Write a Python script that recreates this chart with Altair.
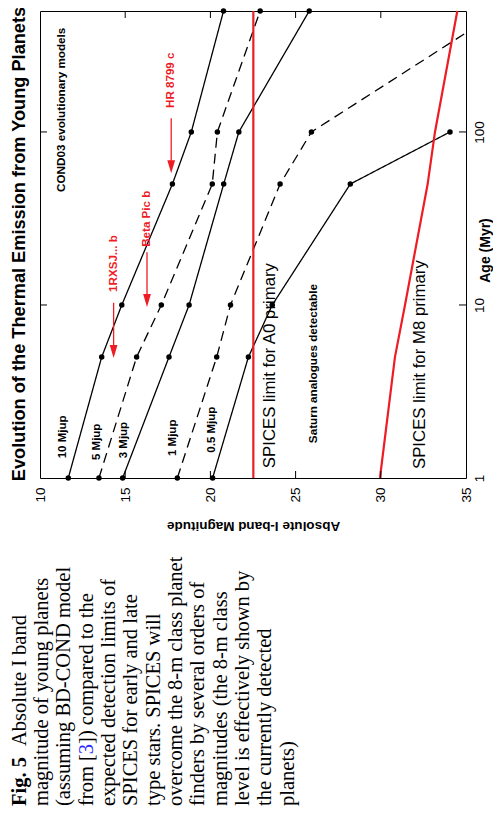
import altair as alt
import pandas as pd

# ---------------- data ----------------
ages = [1, 5, 10, 50, 100, 500]
mag_10 = [11.66, 13.62, 14.80, 17.77, 18.88, 20.77]
mag_5 = [13.46, 15.67, 17.12, 20.11, 20.41, 22.92]
mag_3 = [14.85, 17.57, 18.75, 20.78, 21.67, 25.80]
mag_1 = [18.06, 20.37, 21.18, 24.09, 25.93, 37.0]
ages_05 = [1, 5, 10, 50, 100]
mag_05 = [20.13, 22.23, 23.63, 28.21, 34.06]

a0_ages = [1, 500]
a0_mags = [22.52, 22.52]
m8_ages = [1, 5, 10, 50, 100, 500]
m8_mags = [29.95, 30.83, 31.42, 32.75, 33.18, 34.49]

mass_labels = ["10 Mjup", "5 Mjup", "3 Mjup", "1 Mjup", "0.5 Mjup"]
mass_label_mag = [11.37, 13.32, 14.94, 17.78, 20.08]
mass_label_age = [1.30, 1.27, 1.30, 1.34, 1.40]

planet_names = ["1RXSJ... b", "Beta Pic b", "HR 8799 c"]
planet_mag = [14.32, 16.28, 17.70]
planet_label_age = [11.9, 21.7, 137.6]
arrow_tail_age = [10.3, 20.2, 120.0]
arrow_head_age = [5.39, 10.6, 63.0]

big_notes = ["SPICES limit for A0 primary", "SPICES limit for M8 primary"]
big_note_mag = [23.48, 32.28]
big_note_age = [1.14, 1.127]

small_notes = ["COND03 evolutionary models", "Saturn analogues detectable"]
small_note_mag = [11.23, 26.02]
small_note_age = [45.0, 1.59]

caption_lines = [
    "magnitude of young planets",
    "(assuming BD-COND model",
    None,
    "expected detection limits of",
    "SPICES for early and late",
    "type stars. SPICES will",
    "overcome the 8-m class planet",
    "finders by several orders of",
    "magnitudes (the 8-m class",
    "level is effectively shown by",
    "the currently detected",
    "planets)",
]

TITLE = "Evolution of the Thermal Emission from Young Planets"

# ---------------- build tables ----------------
rows = []
for name, ag, mg, style in [
    ("10 Mjup", ages, mag_10, "solid"),
    ("5 Mjup", ages, mag_5, "dashed"),
    ("3 Mjup", ages, mag_3, "solid"),
    ("1 Mjup", ages, mag_1, "dashed"),
    ("0.5 Mjup", ages_05, mag_05, "solid"),
]:
    for a, m in zip(ag, mg):
        rows.append({"series": name, "age": a, "mag": m, "style": style})
tracks = pd.DataFrame(rows)

limits = pd.DataFrame(
    [{"series": "A0", "age": a, "mag": m} for a, m in zip(a0_ages, a0_mags)]
    + [{"series": "M8", "age": a, "mag": m} for a, m in zip(m8_ages, m8_mags)]
)

mass_df = pd.DataFrame({"text": mass_labels, "mag": mass_label_mag, "age": mass_label_age})
planet_df = pd.DataFrame({"text": planet_names, "mag": planet_mag, "age": planet_label_age})
arrow_df = pd.DataFrame({"mag": planet_mag, "age": arrow_tail_age, "age2": arrow_head_age})
head_df = pd.DataFrame({"mag": planet_mag, "age": arrow_head_age})
big_df = pd.DataFrame({"text": big_notes, "mag": big_note_mag, "age": big_note_age})
small_df = pd.DataFrame({"text": small_notes, "mag": small_note_mag, "age": small_note_age})
xtick_df = pd.DataFrame({"mag": [15, 20, 25, 30]})
ytick_df = pd.DataFrame({"age": [10, 100]})

# ---------------- styling ----------------
SANS = "Liberation Sans"
SERIF = "Liberation Serif"
RED = "#ee1c25"
W, H = 426, 467

xscale = alt.Scale(domain=[10, 35], nice=False, zero=False)
yscale = alt.Scale(type="log", domain=[1, 500], nice=False)

xaxis = alt.Axis(
    values=[10, 15, 20, 25, 30, 35], ticks=False, domain=False, grid=False,
    labelAngle=270, labelAlign="right", labelBaseline="middle", labelPadding=9,
    labelFlush=False, labelOverlap=False, labelFontSize=13.5, labelFont=SANS,
    labelColor="black", title="Absolute I-band Magnitude", titleAngle=180,
    titleX=213, titleY=47, titleAlign="center", titleBaseline="middle",
    titleFontSize=13.5, titleFontWeight="bold", titleFont=SANS, titleColor="black",
)
yaxis = alt.Axis(
    orient="right", values=[1, 10, 100], format="d", ticks=False, domain=False,
    grid=False, labelAngle=270, labelAlign="center", labelBaseline="top",
    labelPadding=6, labelFlush=False, labelOverlap=False, labelFontSize=13.5,
    labelFont=SANS, labelColor="black", title="Age (Myr)", titleAngle=270,
    titleX=19.5, titleY=239, titleAlign="center", titleBaseline="middle",
    titleFontSize=14, titleFontWeight="bold", titleFont=SANS, titleColor="black",
)


def X(field="mag"):
    return alt.X(f"{field}:Q", scale=xscale, axis=xaxis)


def Y(field="age"):
    return alt.Y(f"{field}:Q", scale=yscale, axis=yaxis)


layers = []

# evolutionary tracks
layers.append(
    alt.Chart(tracks).mark_line(color="black", strokeWidth=1.3, clip=True).encode(
        x=X(), y=Y(), detail="series:N",
        strokeDash=alt.StrokeDash("style:N", scale=alt.Scale(domain=["solid", "dashed"], range=[[1, 0], [10, 6]]), legend=None),
        order="age:Q",
    )
)
layers.append(
    alt.Chart(tracks).transform_filter("datum.mag <= 35").mark_point(
        filled=True, color="black", size=30, opacity=1
    ).encode(x=X(), y=Y())
)

# SPICES limits
layers.append(
    alt.Chart(limits).mark_line(color=RED, strokeWidth=2.2).encode(
        x=X(), y=Y(), detail="series:N", order="age:Q"
    )
)

# inward ticks
layers.append(alt.Chart(xtick_df).mark_rule(color="black", strokeWidth=1).encode(x=X(), y=alt.value(H), y2=alt.value(H - 7)))
layers.append(alt.Chart(xtick_df).mark_rule(color="black", strokeWidth=1).encode(x=X(), y=alt.value(0), y2=alt.value(7)))
layers.append(alt.Chart(ytick_df).mark_rule(color="black", strokeWidth=1).encode(y=Y(), x=alt.value(0), x2=alt.value(7)))
layers.append(alt.Chart(ytick_df).mark_rule(color="black", strokeWidth=1).encode(y=Y(), x=alt.value(W), x2=alt.value(W - 7)))

# planet arrows
layers.append(
    alt.Chart(arrow_df).mark_rule(color=RED, strokeWidth=1.3).encode(x=X(), y=Y(), y2="age2:Q")
)
layers.append(
    alt.Chart(head_df).mark_point(
        shape="M-0.6,-1L0.6,-1L0,1Z", filled=True, color=RED, size=169, opacity=1
    ).encode(x=X(), y=Y())
)


def text_layer(df, size, weight="normal", color="black", font=SANS):
    return alt.Chart(df).mark_text(
        angle=270, align="left", baseline="middle", font=font, fontSize=size,
        fontWeight=weight, color=color,
    ).encode(x=X(), y=Y(), text="text:N")


layers.append(text_layer(mass_df, 11.5, "bold"))
layers.append(text_layer(small_df, 11.7, "bold"))
layers.append(text_layer(big_df, 16.8))
layers.append(text_layer(planet_df, 11.6, "bold", RED))

# title (left side, reading upward)
layers.append(
    alt.Chart(pd.DataFrame({"t": [TITLE]})).mark_text(
        angle=270, align="center", baseline="middle", font=SANS, fontSize=18.2,
        fontWeight="bold", color="black",
    ).encode(x=alt.value(-20.2), y=alt.value(233), text="t:N")
)

# caption (below the plot, rotated)
CAP_SIZE = 20.5
CAP_X0 = 19.6 - 40
CAP_DX = 22.35
CAP_Y = 806 - 11


def cap(text, i, offset=0.0, weight="normal", color="black"):
    return alt.Chart(pd.DataFrame({"t": [text]})).mark_text(
        angle=270, align="left", baseline="middle", font=SERIF, fontSize=CAP_SIZE,
        fontWeight=weight, color=color,
    ).encode(x=alt.value(CAP_X0 + CAP_DX * i), y=alt.value(CAP_Y - offset), text="t:N")


layers.append(cap("Fig. 5", 0, 0, "bold"))
layers.append(cap("Absolute I band", 0, 60))
for i, line in enumerate(caption_lines, start=1):
    if line is not None:
        layers.append(cap(line, i))
# line with the blue reference
em = CAP_SIZE
w_from = (0.333 + 0.333 + 0.5 + 0.778 + 0.25 + 0.333) * em
layers.append(cap("from [", 3))
layers.append(cap("3", 3, w_from, color="#2a2aff"))
layers.append(cap("]) compared to the", 3, w_from + 0.5 * em))

chart = alt.layer(*layers).properties(
    width=W, height=H,
    autosize=alt.AutoSizeParams(type="none"),
    padding={"left": 32, "top": 3, "right": 27, "bottom": 328},
    background="white",
).configure_view(stroke="black", strokeWidth=1)

chart.save("out.html", embed_options={"renderer": "svg", "actions": False})
